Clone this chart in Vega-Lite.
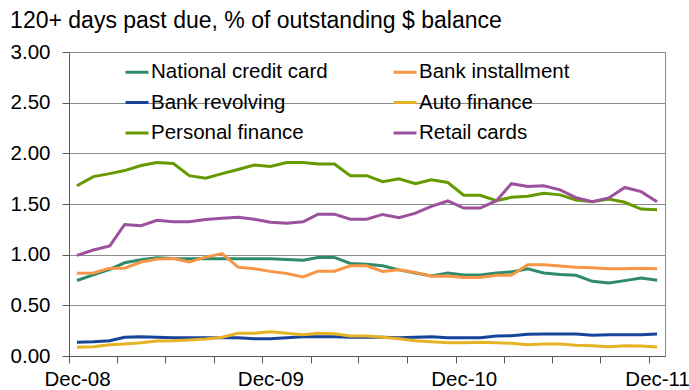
{
  "$schema": "https://vega.github.io/schema/vega-lite/v6.json",
  "width": 596,
  "height": 304,
  "autosize": "none",
  "padding": {"left": 69, "top": 52, "right": 24, "bottom": 34},
  "background": "white",
  "config": {
    "font": "Liberation Sans",
    "view": {"stroke": "#8c8c8c", "strokeWidth": 1},
    "axis": {"labelFont": "Liberation Sans", "labelFontSize": 20.5, "labelColor": "#000000", "domainColor": "#595959", "tickColor": "#595959", "gridColor": "#8c8c8c", "titleFont": "Liberation Sans"}
  },
  "title": {
    "text": "120+ days past due, % of outstanding $ balance",
    "anchor": "start",
    "frame": "bounds",
    "fontSize": 23,
    "fontWeight": "normal",
    "font": "Liberation Sans",
    "color": "#000000",
    "baseline": "alphabetic",
    "offset": 15,
    "dy": 24
  },
  "data": {
    "values": [
      {"month": "2008-12", "National credit card": 0.745, "Bank revolving": 0.135, "Personal finance": 1.68, "Bank installment": 0.817, "Auto finance": 0.086, "Retail cards": 0.993},
      {"month": "2009-01", "National credit card": 0.80, "Bank revolving": 0.14, "Personal finance": 1.77, "Bank installment": 0.82, "Auto finance": 0.092, "Retail cards": 1.046},
      {"month": "2009-02", "National credit card": 0.854, "Bank revolving": 0.15, "Personal finance": 1.80, "Bank installment": 0.867, "Auto finance": 0.11, "Retail cards": 1.086},
      {"month": "2009-03", "National credit card": 0.92, "Bank revolving": 0.185, "Personal finance": 1.83, "Bank installment": 0.867, "Auto finance": 0.118, "Retail cards": 1.298},
      {"month": "2009-04", "National credit card": 0.95, "Bank revolving": 0.19, "Personal finance": 1.88, "Bank installment": 0.927, "Auto finance": 0.13, "Retail cards": 1.285},
      {"month": "2009-05", "National credit card": 0.97, "Bank revolving": 0.185, "Personal finance": 1.91, "Bank installment": 0.956, "Auto finance": 0.148, "Retail cards": 1.34},
      {"month": "2009-06", "National credit card": 0.963, "Bank revolving": 0.18, "Personal finance": 1.90, "Bank installment": 0.963, "Auto finance": 0.151, "Retail cards": 1.324},
      {"month": "2009-07", "National credit card": 0.96, "Bank revolving": 0.18, "Personal finance": 1.78, "Bank installment": 0.927, "Auto finance": 0.158, "Retail cards": 1.324},
      {"month": "2009-08", "National credit card": 0.96, "Bank revolving": 0.18, "Personal finance": 1.755, "Bank installment": 0.976, "Auto finance": 0.168, "Retail cards": 1.348},
      {"month": "2009-09", "National credit card": 0.96, "Bank revolving": 0.18, "Personal finance": 1.80, "Bank installment": 1.01, "Auto finance": 0.185, "Retail cards": 1.36},
      {"month": "2009-10", "National credit card": 0.96, "Bank revolving": 0.18, "Personal finance": 1.84, "Bank installment": 0.877, "Auto finance": 0.225, "Retail cards": 1.37},
      {"month": "2009-11", "National credit card": 0.96, "Bank revolving": 0.17, "Personal finance": 1.885, "Bank installment": 0.86, "Auto finance": 0.225, "Retail cards": 1.35},
      {"month": "2009-12", "National credit card": 0.96, "Bank revolving": 0.17, "Personal finance": 1.87, "Bank installment": 0.835, "Auto finance": 0.24, "Retail cards": 1.32},
      {"month": "2010-01", "National credit card": 0.953, "Bank revolving": 0.18, "Personal finance": 1.91, "Bank installment": 0.815, "Auto finance": 0.225, "Retail cards": 1.31},
      {"month": "2010-02", "National credit card": 0.946, "Bank revolving": 0.19, "Personal finance": 1.91, "Bank installment": 0.78, "Auto finance": 0.21, "Retail cards": 1.324},
      {"month": "2010-03", "National credit card": 0.973, "Bank revolving": 0.19, "Personal finance": 1.895, "Bank installment": 0.837, "Auto finance": 0.225, "Retail cards": 1.40},
      {"month": "2010-04", "National credit card": 0.973, "Bank revolving": 0.19, "Personal finance": 1.895, "Bank installment": 0.837, "Auto finance": 0.22, "Retail cards": 1.40},
      {"month": "2010-05", "National credit card": 0.913, "Bank revolving": 0.185, "Personal finance": 1.78, "Bank installment": 0.89, "Auto finance": 0.198, "Retail cards": 1.35},
      {"month": "2010-06", "National credit card": 0.906, "Bank revolving": 0.185, "Personal finance": 1.78, "Bank installment": 0.89, "Auto finance": 0.198, "Retail cards": 1.35},
      {"month": "2010-07", "National credit card": 0.89, "Bank revolving": 0.185, "Personal finance": 1.72, "Bank installment": 0.834, "Auto finance": 0.185, "Retail cards": 1.397},
      {"month": "2010-08", "National credit card": 0.85, "Bank revolving": 0.18, "Personal finance": 1.748, "Bank installment": 0.85, "Auto finance": 0.17, "Retail cards": 1.364},
      {"month": "2010-09", "National credit card": 0.82, "Bank revolving": 0.185, "Personal finance": 1.70, "Bank installment": 0.825, "Auto finance": 0.151, "Retail cards": 1.41},
      {"month": "2010-10", "National credit card": 0.79, "Bank revolving": 0.19, "Personal finance": 1.738, "Bank installment": 0.787, "Auto finance": 0.141, "Retail cards": 1.477},
      {"month": "2010-11", "National credit card": 0.82, "Bank revolving": 0.18, "Personal finance": 1.712, "Bank installment": 0.79, "Auto finance": 0.13, "Retail cards": 1.53},
      {"month": "2010-12", "National credit card": 0.80, "Bank revolving": 0.18, "Personal finance": 1.586, "Bank installment": 0.775, "Auto finance": 0.13, "Retail cards": 1.46},
      {"month": "2011-01", "National credit card": 0.80, "Bank revolving": 0.18, "Personal finance": 1.586, "Bank installment": 0.775, "Auto finance": 0.135, "Retail cards": 1.46},
      {"month": "2011-02", "National credit card": 0.82, "Bank revolving": 0.198, "Personal finance": 1.533, "Bank installment": 0.797, "Auto finance": 0.13, "Retail cards": 1.533},
      {"month": "2011-03", "National credit card": 0.83, "Bank revolving": 0.20, "Personal finance": 1.566, "Bank installment": 0.797, "Auto finance": 0.125, "Retail cards": 1.70},
      {"month": "2011-04", "National credit card": 0.86, "Bank revolving": 0.215, "Personal finance": 1.577, "Bank installment": 0.90, "Auto finance": 0.11, "Retail cards": 1.672},
      {"month": "2011-05", "National credit card": 0.82, "Bank revolving": 0.218, "Personal finance": 1.606, "Bank installment": 0.90, "Auto finance": 0.118, "Retail cards": 1.68},
      {"month": "2011-06", "National credit card": 0.805, "Bank revolving": 0.218, "Personal finance": 1.59, "Bank installment": 0.887, "Auto finance": 0.118, "Retail cards": 1.64},
      {"month": "2011-07", "National credit card": 0.797, "Bank revolving": 0.218, "Personal finance": 1.54, "Bank installment": 0.875, "Auto finance": 0.105, "Retail cards": 1.563},
      {"month": "2011-08", "National credit card": 0.737, "Bank revolving": 0.205, "Personal finance": 1.523, "Bank installment": 0.87, "Auto finance": 0.10, "Retail cards": 1.523},
      {"month": "2011-09", "National credit card": 0.72, "Bank revolving": 0.21, "Personal finance": 1.55, "Bank installment": 0.86, "Auto finance": 0.092, "Retail cards": 1.56},
      {"month": "2011-10", "National credit card": 0.744, "Bank revolving": 0.21, "Personal finance": 1.517, "Bank installment": 0.86, "Auto finance": 0.10, "Retail cards": 1.663},
      {"month": "2011-11", "National credit card": 0.77, "Bank revolving": 0.21, "Personal finance": 1.45, "Bank installment": 0.865, "Auto finance": 0.098, "Retail cards": 1.622},
      {"month": "2011-12", "National credit card": 0.747, "Bank revolving": 0.218, "Personal finance": 1.443, "Bank installment": 0.86, "Auto finance": 0.09, "Retail cards": 1.523}
    ],
    "format": {"parse": {"month": "date:'%Y-%m'"}}
  },
  "transform": [
    {"fold": ["National credit card", "Bank revolving", "Personal finance", "Bank installment", "Auto finance", "Retail cards"], "as": ["series", "value"]}
  ],
  "mark": {"type": "line", "strokeWidth": 3, "interpolate": "linear"},
  "encoding": {
    "x": {
      "field": "month",
      "type": "temporal",
      "scale": {"domain": [{"year": 2008, "month": 11, "date": 16}, {"year": 2011, "month": 12, "date": 16}]},
      "axis": {
        "title": null,
        "grid": false,
        "values": [
          {"year": 2008, "month": 11, "date": 16},
          {"year": 2009, "month": 2, "date": 15},
          {"year": 2009, "month": 5, "date": 16},
          {"year": 2009, "month": 8, "date": 16},
          {"year": 2009, "month": 11, "date": 16},
          {"year": 2010, "month": 2, "date": 15},
          {"year": 2010, "month": 5, "date": 16},
          {"year": 2010, "month": 8, "date": 16},
          {"year": 2010, "month": 11, "date": 16},
          {"year": 2011, "month": 2, "date": 15},
          {"year": 2011, "month": 5, "date": 16},
          {"year": 2011, "month": 8, "date": 16},
          {"year": 2011, "month": 11, "date": 16}
        ],
        "labelExpr": "month(datum.value) == 10 ? 'Dec-' + timeFormat(datum.value, '%y') : ''",
        "labelOffset": 8,
        "labelFlush": false,
        "labelOverlap": false,
        "labelBound": false,
        "tickSize": 7,
        "tickWidth": 1,
        "labelPadding": 6,
        "domainWidth": 1
      }
    },
    "y": {
      "field": "value",
      "type": "quantitative",
      "scale": {"domain": [0, 3], "nice": false},
      "axis": {
        "title": null,
        "values": [0, 0.5, 1, 1.5, 2, 2.5, 3],
        "format": ".2f",
        "grid": true,
        "tickSize": 7,
        "labelPadding": 12,
        "gridWidth": 1
      }
    },
    "color": {
      "field": "series",
      "type": "nominal",
      "scale": {
        "domain": ["National credit card", "Bank installment", "Bank revolving", "Auto finance", "Personal finance", "Retail cards"],
        "range": ["#2E8B6A", "#F79646", "#17449B", "#E6B325", "#669900", "#9B519E"]
      },
      "legend": {
        "title": null,
        "orient": "none",
        "legendX": 55,
        "legendY": 7,
        "columns": 2,
        "direction": "horizontal",
        "symbolType": "stroke",
        "symbolSize": 529,
        "symbolStrokeWidth": 3,
        "labelFontSize": 20.5,
        "labelFont": "Liberation Sans",
        "labelColor": "#000000",
        "labelLimit": 400,
        "labelOffset": 1,
        "columnPadding": 59,
        "rowPadding": 6.5
      }
    }
  }
}
